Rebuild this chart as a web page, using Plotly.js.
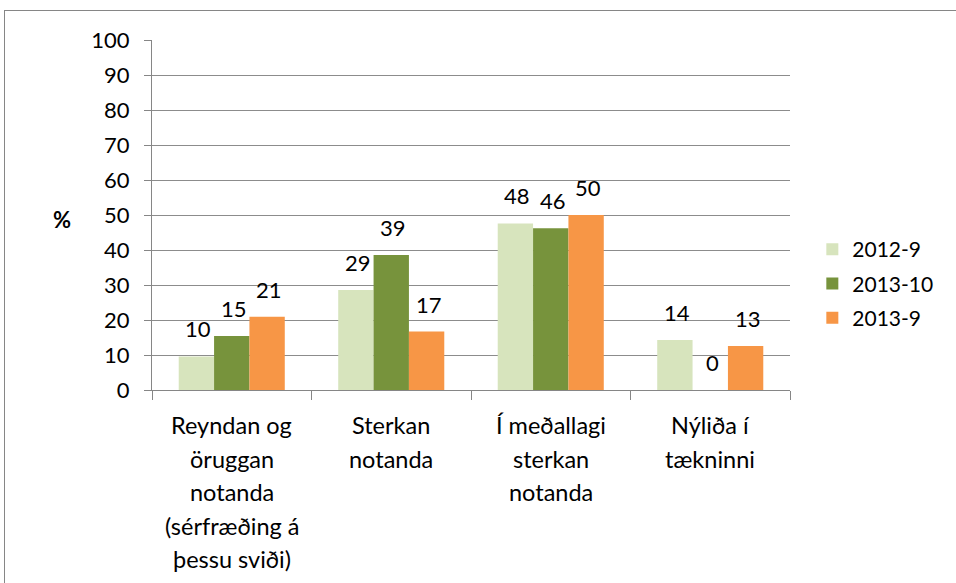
<!DOCTYPE html>
<html><head><meta charset="utf-8">
<script src="https://cdn.plot.ly/plotly-3.0.1.min.js"></script>
<style>
html,body{margin:0;padding:0;background:#fff;}
#wrap{position:relative;width:956px;height:583px;overflow:hidden;}
#frame{position:absolute;left:4px;top:10px;width:960px;height:600px;border:1px solid #868686;box-sizing:border-box;pointer-events:none;}
#chart{position:absolute;left:0;top:0;width:956px;height:583px;}
</style></head>
<body><div id="wrap"><div id="chart"></div><div id="frame"></div></div>
<script>
const categories = ["Reyndan og öruggan notanda (sérfræðing á þessu sviði)", "Sterkan notanda", "Í meðallagi sterkan notanda", "Nýliða í tækninni"];
const categoryLines = [["Reyndan og", "öruggan", "notanda", "(sérfræðing á", "þessu sviði)"], ["Sterkan", "notanda"], ["Í meðallagi", "sterkan", "notanda"], ["Nýliða í", "tækninni"]];
const seriesNames = ["2012-9", "2013-10", "2013-9"];
const s2012_9 = [9.6, 28.6, 47.6, 14.3];
const s2013_10 = [15.4, 38.6, 46.2, 0];
const s2013_9 = [20.9, 16.7, 50, 12.6];
const colors = ["#d7e4bd", "#77933c", "#f79646"];
const yTicks = [0,10,20,30,40,50,60,70,80,90,100];

const allSeries = [s2012_9, s2013_10, s2013_9];
const FONT = "Lato, 'Open Sans', sans-serif";
const labelFont = {family: FONT, size: 22, color: "#000"};
const catFont = {family: FONT, size: 23.5, color: "#000"};
const legendFont = {family: FONT, size: 21, color: "#000"};
const traces = allSeries.map((vals, i) => ({
  type: "bar", x: categories, y: vals, name: seriesNames[i],
  legendgroup: "g" + i,
  marker: {color: colors[i]},
  hoverinfo: "none"
}));
const annotations = [];
const barW = 35.5;
allSeries.forEach((vals, i) => {
  vals.forEach((v, j) => {
    annotations.push({x: categories[j], y: v, xref: "x", yref: "y", text: String(Math.round(v)),
      showarrow: false, xanchor: "center", yanchor: "bottom", xshift: (i - 1) * barW + 2, yshift: 12,
      font: labelFont});
  });
});
categoryLines.forEach((lines, j) => {
  lines.forEach((ln, k) => {
    annotations.push({x: categories[j], y: 0, xref: "x", yref: "y", text: ln, showarrow: false,
      xanchor: "center", yanchor: "middle", yshift: -35 - k * 33.5, font: catFont});
  });
});
annotations.push({text: "<b>%</b>", xref: "paper", yref: "paper", x: -0.141, y: 0.487, xanchor: "center", yanchor: "middle", showarrow: false, font: {family: FONT, size: 22, color: "#000"}});

const layout = {
  width: 956, height: 583,
  margin: {l: 152, r: 166, t: 40, b: 193},
  paper_bgcolor: "#fff", plot_bgcolor: "#fff",
  barmode: "group", bargap: 0.335, bargroupgap: 0,
  showlegend: true,
  legend: {x: 1.035, xanchor: "left", y: 0.46, yanchor: "top", font: legendFont, tracegroupgap: 4, itemwidth: 30},
  xaxis: {
    type: "category", showline: true, linecolor: "#868686", linewidth: 1,
    ticks: "outside", tickson: "boundaries", ticklen: 9, tickcolor: "#868686",
    showticklabels: false, showgrid: false, automargin: false
  },
  yaxis: {
    range: [0, 100], tickvals: yTicks, ticktext: yTicks.map(String),
    showline: true, linecolor: "#868686", linewidth: 1,
    ticks: "outside", ticklen: 7, tickcolor: "#868686", ticklabelstandoff: 10,
    showgrid: true, gridcolor: "#8c8c8c", gridwidth: 1,
    zeroline: false,
    tickfont: labelFont,
    automargin: false
  },
  annotations: annotations
};
Plotly.newPlot("chart", traces, layout, {staticPlot: true, displayModeBar: false});
</script></body></html>
